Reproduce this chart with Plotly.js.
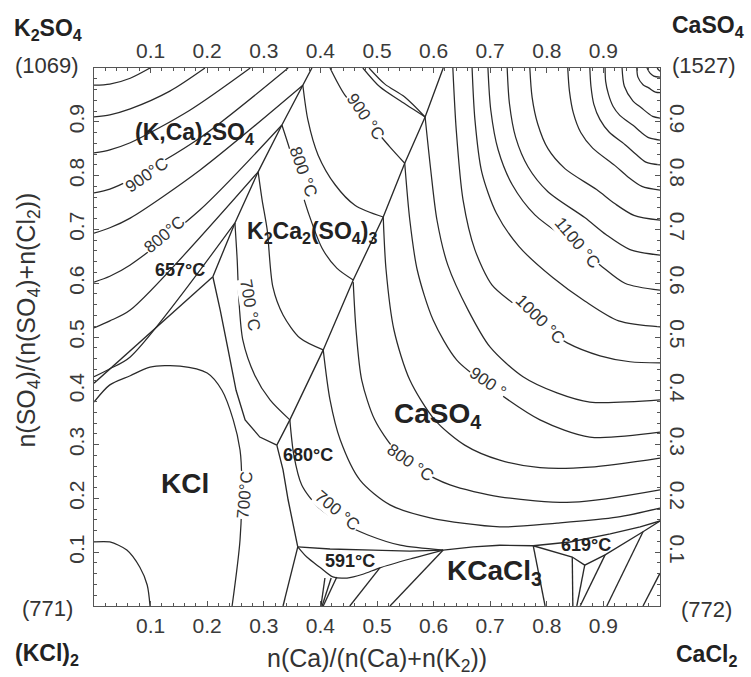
<!DOCTYPE html>
<html><head><meta charset="utf-8">
<script src="https://cdn.plot.ly/plotly-3.0.1.min.js"></script>
<style>html,body{margin:0;padding:0;background:#fff}</style>
</head><body>
<div id="chart" style="width:751px;height:677px"></div>
<script>
// ---- tick labels
const tickVals = [0.1,0.2,0.3,0.4,0.5,0.6,0.7,0.8,0.9];
const tickText = ["0.1","0.2","0.3","0.4","0.5","0.6","0.7","0.8","0.9"];

// ---- (K,Ca)2SO4 field isotherms
const kc1_x=[0,0.028,0.064,0.099], kc1_y=[0.968,0.970,0.981,1];
const kc2_x=[0,0.028,0.064,0.134,0.196], kc2_y=[0.909,0.913,0.924,0.957,1];
const kc3_x=[0,0.028,0.064,0.170,0.276], kc3_y=[0.842,0.848,0.861,0.922,1];
const kc4_x=[0,0.028,0.064,0.187,0.343], kc4_y=[0.768,0.775,0.792,0.870,1];
const kc5_x=[0,0.028,0.064,0.187,0.369], kc5_y=[0.693,0.703,0.721,0.810,0.968];
const kc6_x=[0,0.028,0.064,0.187,0.332], kc6_y=[0.602,0.613,0.634,0.736,0.894];
const kc7_x=[0,0.028,0.064,0.290], kc7_y=[0.517,0.530,0.550,0.807];
const kc8_x=[0,0.028,0.064,0.249], kc8_y=[0.426,0.441,0.463,0.712];

// ---- field boundaries
const b1_x=[0.385,0.369,0.332,0.290,0.249,0.210], b1_y=[1,0.968,0.894,0.807,0.712,0.612];
const b2_x=[0,0.210], b2_y=[0.414,0.612];
const b3_x=[0.617,0.585,0.549,0.511,0.458,0.405,0.346,0.323], b3_y=[1,0.909,0.823,0.723,0.606,0.476,0.346,0.299];
const b4_x=[0.210,0.223,0.237,0.251,0.267,0.293,0.323], b4_y=[0.612,0.550,0.476,0.401,0.346,0.314,0.299];
const b5_x=[0.323,0.334,0.343,0.352,0.360], b5_y=[0.299,0.253,0.197,0.151,0.110];

// ---- K2Ca2(SO4)3 field isotherms
const kk1a_x=[0.475,0.505,0.541,0.585], kk1a_y=[1,0.965,0.939,0.909];
const kk1b_x=[0.486,0.514,0.549,0.585], kk1b_y=[1,0.970,0.946,0.909];
const kk900_x=[0.417,0.443,0.479,0.523,0.549], kk900_y=[1,0.950,0.907,0.853,0.823];
const kk850_x=[0.369,0.378,0.396,0.426,0.461,0.511], kk850_y=[0.968,0.903,0.838,0.783,0.745,0.723];
const kk800_x=[0.332,0.346,0.362,0.380,0.403,0.429,0.458], kk800_y=[0.894,0.848,0.788,0.727,0.665,0.628,0.606];
const kk750_x=[0.290,0.297,0.306,0.316,0.334,0.364,0.405], kk750_y=[0.807,0.755,0.699,0.593,0.541,0.498,0.476];
const kk700_x=[0.249,0.253,0.256,0.263,0.284,0.311,0.346], kk700_y=[0.712,0.643,0.569,0.494,0.429,0.383,0.346];

// ---- KCl field isotherms
const kcl700_x=[0,0.028,0.064,0.099,0.152,0.200,0.226,0.246,0.258,0.261,0.258,0.244];
const kcl700_y=[0.379,0.411,0.428,0.444,0.446,0.433,0.401,0.346,0.290,0.234,0.123,0];
const kclLow_x=[0,0.028,0.058,0.081,0.094,0.099], kclLow_y=[0.119,0.119,0.104,0.072,0.039,0];

// ---- CaSO4 field isotherms
const cs1550_x=[0.995,0.998,1], cs1550_y=[1,0.996,0.994];
const cs1500_x=[0.977,0.982,0.989,1], cs1500_y=[1,0.991,0.985,0.983];
const cs1450_x=[0.959,0.961,0.970,0.980,0.992,1], cs1450_y=[1,0.983,0.969,0.963,0.955,0.954];
const cs1400_x=[0.933,0.937,0.952,0.967,0.987,1], cs1400_y=[1,0.966,0.939,0.926,0.910,0.907];
const cs1350_x=[0.903,0.904,0.909,0.917,0.929,0.953,0.966,0.981,1], cs1350_y=[1,0.975,0.951,0.929,0.912,0.893,0.881,0.870,0.866];
const cs1300_x=[0.876,0.878,0.883,0.894,0.910,0.940,0.957,0.975,1], cs1300_y=[1,0.966,0.933,0.904,0.881,0.856,0.840,0.825,0.820];
const cs1250_x=[0.837,0.840,0.847,0.860,0.881,0.920,0.943,0.968,1], cs1250_y=[1,0.957,0.916,0.880,0.851,0.819,0.798,0.780,0.773];
const cs1200_x=[0.770,0.774,0.784,0.802,0.832,0.888,0.920,0.954,1], cs1200_y=[1,0.946,0.896,0.850,0.813,0.774,0.748,0.726,0.717];
const cs1150_x=[0.730,0.734,0.745,0.767,0.802,0.867,0.905,0.946,1], cs1150_y=[1,0.934,0.871,0.816,0.770,0.722,0.690,0.663,0.652];
const cs1100_x=[0.696,0.701,0.714,0.739,0.779,0.850,0.894,0.938,1], cs1100_y=[1,0.922,0.848,0.783,0.727,0.671,0.634,0.600,0.587];
const cs1050_x=[0.668,0.673,0.685,0.711,0.751,0.811,0.867,0.927,1], cs1050_y=[1,0.904,0.807,0.730,0.668,0.610,0.567,0.530,0.519];
const cs1000_x=[0.634,0.640,0.652,0.673,0.703,0.740,0.788,0.836,0.894,0.947,1], cs1000_y=[1,0.885,0.755,0.662,0.597,0.563,0.524,0.489,0.465,0.454,0.452];
const cs950_x=[0.585,0.595,0.606,0.625,0.661,0.700,0.758,0.818,0.876,1], cs950_y=[0.909,0.810,0.717,0.634,0.550,0.481,0.426,0.396,0.379,0.383];
const cs900_x=[0.549,0.558,0.571,0.599,0.641,0.700,0.788,0.876,1], cs900_y=[0.823,0.717,0.625,0.532,0.457,0.407,0.346,0.314,0.323];
const cs850_x=[0.511,0.516,0.530,0.558,0.602,0.655,0.717,0.788,0.876,1], cs850_y=[0.723,0.625,0.513,0.420,0.346,0.299,0.271,0.257,0.258,0.275];
const cs800_x=[0.458,0.463,0.473,0.496,0.532,0.576,0.629,0.717,0.846,1], cs800_y=[0.602,0.513,0.420,0.346,0.290,0.253,0.225,0.203,0.193,0.216];
const cs750_x=[0.405,0.417,0.435,0.470,0.523,0.594,0.717,0.818,0.924,1], cs750_y=[0.476,0.383,0.309,0.234,0.188,0.164,0.147,0.154,0.165,0.182];
const cs700_x=[0.346,0.353,0.367,0.396,0.435,0.484,0.541,0.617], cs700_y=[0.346,0.281,0.225,0.184,0.156,0.132,0.113,0.104];

// ---- lower region (591 / KCaCl3 / 619)
const low1_x=[0.360,0.334], low1_y=[0.110,0];
const lensU_x=[0.360,0.417,0.493,0.558,0.617], lensU_y=[0.110,0.106,0.104,0.102,0.104];
const lensL_x=[0.360,0.376,0.399,0.422,0.447,0.475,0.505,0.564,0.617], lensL_y=[0.110,0.091,0.072,0.054,0.052,0.059,0.071,0.089,0.104];
const fan1_x=[0.408,0.401], fan1_y=[0.052,0];
const fan2_x=[0.419,0.403], fan2_y=[0.052,0];
const fan3_x=[0.429,0.405], fan3_y=[0.054,0];
const low2_x=[0.505,0.452], low2_y=[0.071,0];
const low3_x=[0.617,0.523], low3_y=[0.104,0];
const kcc_x=[0.617,0.670,0.717,0.776], kcc_y=[0.104,0.110,0.113,0.112];
const e619U_x=[0.776,0.841,0.912,0.965,1], e619U_y=[0.112,0.119,0.134,0.147,0.158];
const e619L_x=[0.776,0.815,0.845,0.867,0.903,0.970,1], e619L_y=[0.112,0.100,0.091,0.076,0.095,0.138,0.158];
const v1_x=[0.776,0.797], v1_y=[0.112,0];
const v2_x=[0.845,0.846], v2_y=[0.091,0];
const v3_x=[0.867,0.853], v3_y=[0.076,0];
const v4_x=[0.903,0.859], v4_y=[0.095,0];
const v5_x=[0.970,0.906], v5_y=[0.138,0];
const v6_x=[1,0.970], v6_y=[0.061,0];

const curves = [
 [kc1_x,kc1_y],[kc2_x,kc2_y],[kc3_x,kc3_y],[kc4_x,kc4_y],[kc5_x,kc5_y],[kc6_x,kc6_y],[kc7_x,kc7_y],[kc8_x,kc8_y],
 [kk1a_x,kk1a_y],[kk1b_x,kk1b_y],[kk900_x,kk900_y],[kk850_x,kk850_y],[kk800_x,kk800_y],[kk750_x,kk750_y],[kk700_x,kk700_y],
 [kcl700_x,kcl700_y],[kclLow_x,kclLow_y],
 [cs1550_x,cs1550_y],[cs1500_x,cs1500_y],[cs1450_x,cs1450_y],[cs1400_x,cs1400_y],[cs1350_x,cs1350_y],[cs1300_x,cs1300_y],
 [cs1250_x,cs1250_y],[cs1200_x,cs1200_y],[cs1150_x,cs1150_y],[cs1100_x,cs1100_y],[cs1050_x,cs1050_y],[cs1000_x,cs1000_y],
 [cs950_x,cs950_y],[cs900_x,cs900_y],[cs850_x,cs850_y],[cs800_x,cs800_y],[cs750_x,cs750_y],[cs700_x,cs700_y],
 [lensL_x,lensL_y]
];
const straights = [
 [b1_x,b1_y],[b2_x,b2_y],[b3_x,b3_y],[b4_x,b4_y],[b5_x,b5_y],
 [low1_x,low1_y],[lensU_x,lensU_y],[fan1_x,fan1_y],[fan2_x,fan2_y],[fan3_x,fan3_y],[low2_x,low2_y],[low3_x,low3_y],
 [kcc_x,kcc_y],[e619U_x,e619U_y],[e619L_x,e619L_y],[v1_x,v1_y],[v2_x,v2_y],[v3_x,v3_y],[v4_x,v4_y],[v5_x,v5_y],[v6_x,v6_y]
];

const LC = '#2a2a2a';
const traces = [];
curves.forEach(c => traces.push({x:c[0], y:c[1], mode:'lines', hoverinfo:'skip', showlegend:false,
  line:{color:LC, width:1.25, shape:'spline', smoothing:0.8}}));
straights.forEach(c => traces.push({x:c[0], y:c[1], mode:'lines', hoverinfo:'skip', showlegend:false,
  line:{color:LC, width:1.35}}));
traces.push({x:[0,1], y:[0,1], xaxis:'x2', yaxis:'y2', mode:'markers', marker:{opacity:0}, hoverinfo:'skip', showlegend:false});

const FONT = 'Liberation Sans, Arial, sans-serif';
const tickFont = {family:FONT, size:21, color:'#3a3a3a'};
const axBase = {range:[0,1], showgrid:false, zeroline:false, showline:true, linecolor:'#555', linewidth:1.3,
  ticks:'inside', ticklen:5, tickwidth:1, tickcolor:'#555', tickvals:tickVals, ticktext:tickText, tickfont:tickFont,
  minor:{ticks:'inside', dtick:0.02, tick0:0, ticklen:3, tickcolor:'#555', tickwidth:1, showgrid:false}, fixedrange:true};

function ann(x,y,text,size,opts){ return Object.assign({x:x,y:y,xref:'x',yref:'y',xanchor:'center',yanchor:'middle',
  text:text,showarrow:false,font:{family:FONT,size:size,color:'#222'}}, opts||{}); }
function pap(x,y,text,size,opts){ return Object.assign({x:x,y:y,xref:'paper',yref:'paper',xanchor:'center',yanchor:'middle',
  text:text,showarrow:false,font:{family:FONT,size:size,color:'#333'}}, opts||{}); }
const T = (x,y,t,a) => ann(x,y,t,17,{textangle:a, bgcolor:'white', borderpad:0, font:{family:FONT,size:17,color:'#333'}});
const B = (x,y,t,s) => ann(x,y,'<b>'+t+'</b>',s,{font:{family:FONT,size:s,color:'#222'}});

const annotations = [
  B(0.178,0.879,'(K,Ca)<sub>2</sub>SO<sub>4</sub>',23),
  B(0.385,0.695,'K<sub>2</sub>Ca<sub>2</sub>(SO<sub>4</sub>)<sub>3</sub>',23),
  B(0.606,0.355,'CaSO<sub>4</sub>',28),
  B(0.161,0.227,'KCl',28),
  B(0.708,0.063,'KCaCl<sub>3</sub>',28),
  B(0.152,0.625,'657°C',18), B(0.378,0.281,'680°C',18), B(0.452,0.084,'591°C',18), B(0.869,0.113,'619°C',18),
  T(0.092,0.801,'900°C',-35), T(0.125,0.690,'800°C',-40),
  T(0.369,0.807,'800 °C',70), T(0.479,0.909,'900 °C',55), T(0.276,0.559,'700 °C',80),
  T(0.853,0.675,'1100 °C',50), T(0.788,0.532,'1000 °C',45), T(0.696,0.416,'900 °',35),
  T(0.558,0.266,'800 °C',35), T(0.429,0.177,'700 °C',40), T(0.266,0.206,'700°C',-85),
  pap(-0.081,1.071,'<b>K<sub>2</sub>SO<sub>4</sub></b>',23,{font:{family:FONT,size:23,color:'#222'}}),
  pap(-0.083,1.004,'(1069)',22),
  pap(1.085,1.077,'<b>CaSO<sub>4</sub></b>',23,{font:{family:FONT,size:23,color:'#222'}}),
  pap(1.078,1.004,'(1527)',22),
  pap(-0.083,-0.004,'(771)',22),
  pap(-0.083,-0.090,'<b>(KCl)<sub>2</sub></b>',23,{font:{family:FONT,size:23,color:'#222'}}),
  pap(1.083,-0.006,'(772)',22),
  pap(1.083,-0.092,'<b>CaCl<sub>2</sub></b>',23,{font:{family:FONT,size:23,color:'#222'}}),
  pap(0.50,-0.100,'n(Ca)/(n(Ca)+n(K<sub>2</sub>))',25),
  pap(-0.117,0.532,'n(SO<sub>4</sub>)/(n(SO<sub>4</sub>)+n(Cl<sub>2</sub>))',25,{textangle:-90})
];

const layout = {
  width:751, height:677, paper_bgcolor:'white', plot_bgcolor:'white',
  margin:{l:94, r:91, t:68, b:71},
  showlegend:false,
  xaxis:Object.assign({}, axBase, {side:'bottom'}),
  yaxis:Object.assign({}, axBase, {side:'left', tickangle:-90}),
  xaxis2:Object.assign({}, axBase, {side:'top', overlaying:'x', anchor:'y'}),
  yaxis2:Object.assign({}, axBase, {side:'right', overlaying:'y', anchor:'x', tickangle:90}),
  annotations:annotations
};
Plotly.newPlot('chart', traces, layout, {staticPlot:true, displayModeBar:false});
</script>
</body></html>
